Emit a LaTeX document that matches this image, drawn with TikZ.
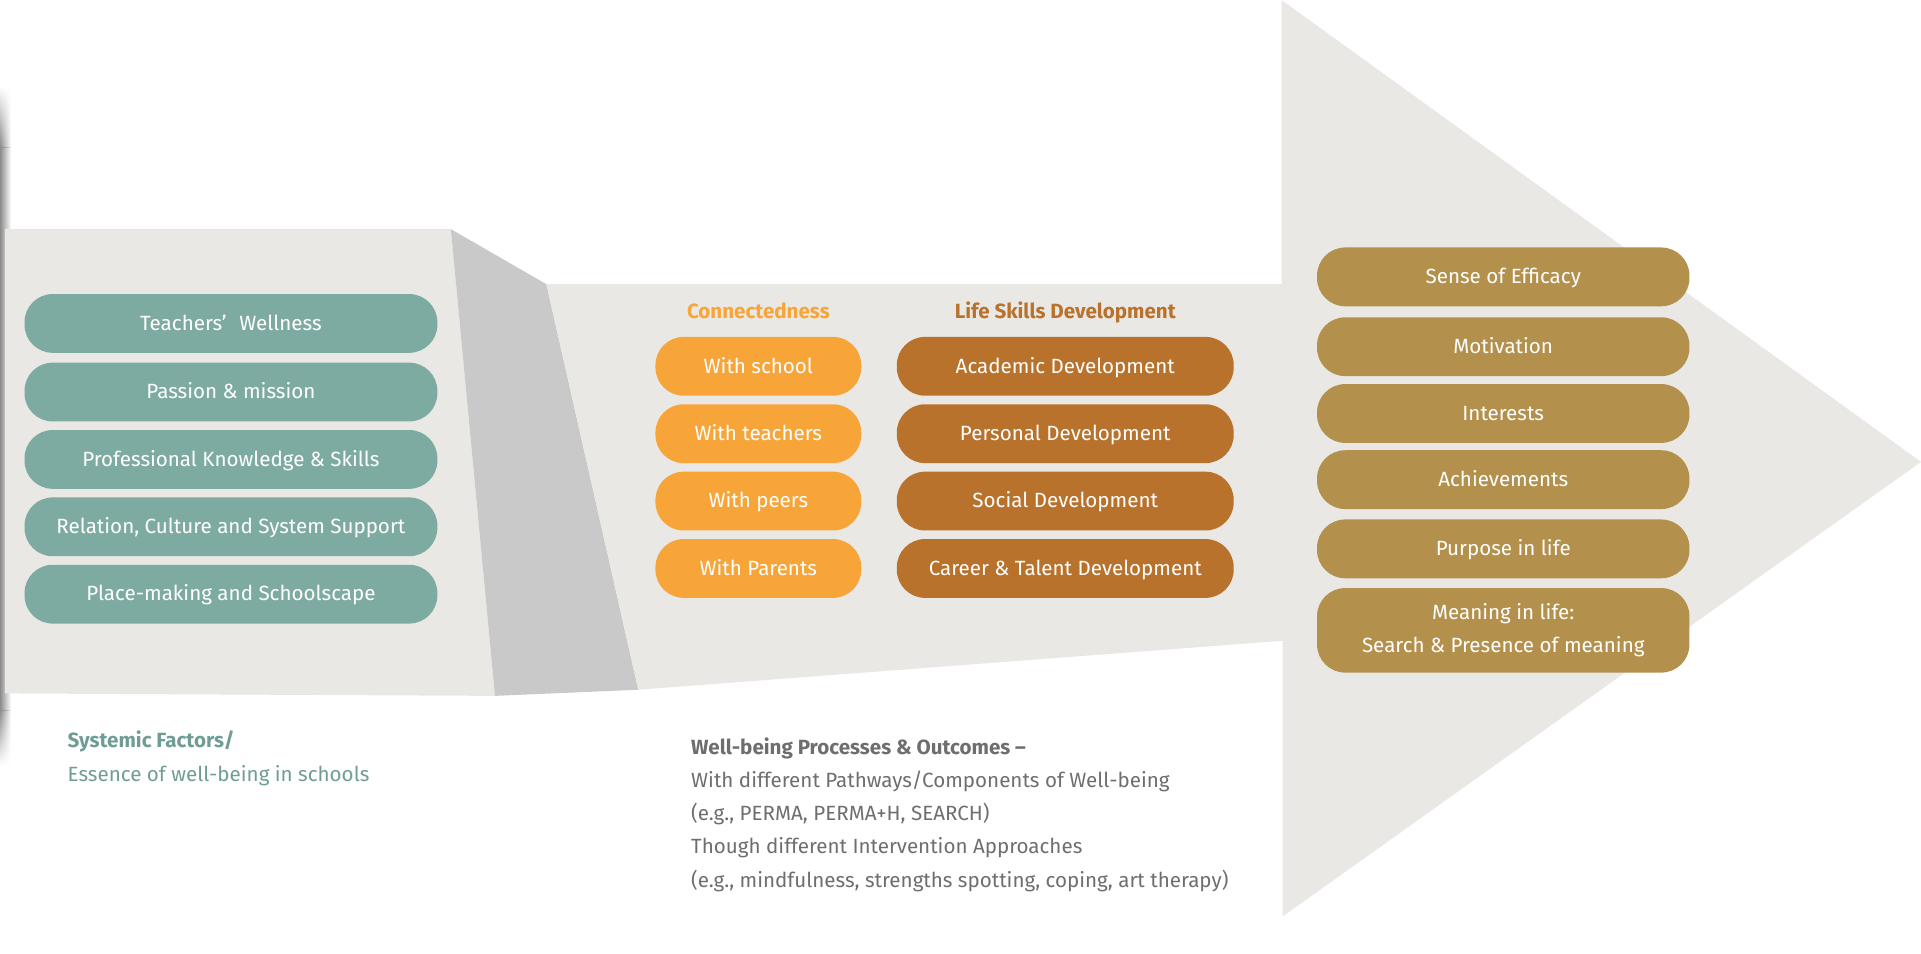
\documentclass[tikz,border=0pt]{standalone}
\usepackage{fontspec}
\setmainfont{Fira Sans}
\usetikzlibrary{fadings}

\definecolor{panelgray}{HTML}{E9E8E4}
\definecolor{foldgray}{HTML}{C9C9C9}
\definecolor{tealbox}{HTML}{7EABA1}
\definecolor{orangebox}{HTML}{F7A538}
\definecolor{brownbox}{HTML}{B8722C}
\definecolor{goldbox}{HTML}{B3904C}
\definecolor{captiongray}{HTML}{6E6E6E}
\definecolor{captionteal}{HTML}{6F9D95}

\tikzset{
  pill/.style={rounded corners=23pt, minimum height=48pt, inner sep=0pt, text=white, font=\fontsize{16.8}{20}\selectfont},
  oneline/.style={text height=12pt, text depth=1pt},
  factor/.style={pill, oneline, fill=tealbox, minimum width=337pt},
  connect/.style={pill, oneline, fill=orangebox, minimum width=168pt},
  skill/.style={pill, oneline, fill=brownbox, minimum width=275pt},
  outcome/.style={pill, fill=goldbox, minimum width=304pt},
  heading/.style={inner sep=0pt, anchor=base, font=\fontsize{16.8}{20}\selectfont\bfseries},
  caption/.style={inner sep=0pt, anchor=base west, text=captiongray, font=\fontsize{16.8}{20}\selectfont},
  captionbold/.style={caption, font=\fontsize{16.8}{20}\selectfont\bfseries},
}

\begin{document}
\begin{tikzpicture}[x=1pt, y=-1pt]
    \useasboundingbox (0,0) rectangle (1568,778);

    % shadow on the left edge
    \fill[black!45, path fading=east] (0,120) rectangle (9,580);
    \shade[top color=white, bottom color=black!45, path fading=east] (0,70) rectangle (9,120);
    \shade[top color=black!45, bottom color=white, path fading=east] (0,580) rectangle (9,625);

    % left panel and fold
    \fill[panelgray] (4,187) -- (368,187) -- (404,568) -- (4,566) -- cycle;
    \fill[foldgray] (368,187) -- (446,232) -- (521,563) -- (404,568) -- cycle;

    % big arrow
    \fill[panelgray] (446,232) -- (1046,232) -- (1046,0) -- (1568,377) -- (1047,748) -- (1047,523) -- (521,563) -- cycle;

    % systemic factors
    \node[factor] (wellness) at (188.5,264) {Teachers’\hspace{0.35em} Wellness};
    \node[factor] (passion) at (188.5,320) {Passion \& mission};
    \node[factor] (knowledge) at (188.5,375) {Professional Knowledge \& Skills};
    \node[factor] (relation) at (188.5,430) {Relation, Culture and System Support};
    \node[factor] (place) at (188.5,485) {Place-making and Schoolscape};

    % connectedness
    \node[heading, text=orangebox] (connectedness) at (619,260) {Connectedness};
    \node[connect] (school) at (619,299) {With school};
    \node[connect] (teachers) at (619,354) {With teachers};
    \node[connect] (peers) at (619,409) {With peers};
    \node[connect] (parents) at (619,464) {With Parents};

    % life skills
    \node[heading, text=brownbox] (lifeskills) at (869.5,260) {Life Skills Development};
    \node[skill] (academic) at (869.5,299) {Academic Development};
    \node[skill] (personal) at (869.5,354) {Personal Development};
    \node[skill] (social) at (869.5,409) {Social Development};
    \node[skill] (career) at (869.5,464) {Career \& Talent Development};

    % outcomes
    \node[outcome, oneline] (efficacy) at (1227,226) {Sense of Efficacy};
    \node[outcome, oneline] (motivation) at (1227,283) {Motivation};
    \node[outcome, oneline] (interests) at (1227,337.5) {Interests};
    \node[outcome, oneline] (achievements) at (1227,391.5) {Achievements};
    \node[outcome, oneline] (purpose) at (1227,448) {Purpose in life};
    \node[outcome, minimum height=69pt, align=center, font=\fontsize{16.8}{27}\selectfont] (meaning) at (1227,514.5) {Meaning in life:\\Search \& Presence of meaning};

    % captions
    \node[captionbold, text=captionteal] (systemic) at (55,610) {Systemic Factors/};
    \node[caption, text=captionteal] (essence) at (55,638) {Essence of well-being in schools};

    \node[captionbold] (processes) at (564,616) {Well-being Processes \& Outcomes –};
    \node[caption] (pathways) at (564,643) {With different Pathways/Components of Well-being};
    \node[caption] (perma) at (564,670) {(e.g., PERMA, PERMA+H, SEARCH)};
    \node[caption] (approaches) at (564,697) {Though different Intervention Approaches};
    \node[caption] (examples) at (564,724) {(e.g., mindfulness, strengths spotting, coping, art therapy)};
\end{tikzpicture}
\end{document}
